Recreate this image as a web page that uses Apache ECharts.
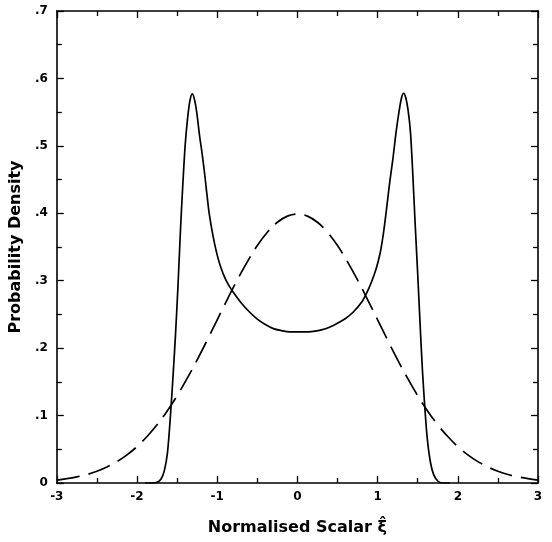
<!DOCTYPE html>
<html>
<head>
<meta charset="utf-8">
<script src="https://cdn.jsdelivr.net/npm/echarts@6/dist/echarts.min.js"></script>
<style>html,body{margin:0;padding:0;background:#fff}#c{width:552px;height:542px}</style>
</head>
<body>
<div id="c"></div>
<script>
// Dashed curve
const dashedX = [-3, -2.875, -2.75, -2.625, -2.5, -2.375, -2.25, -2.125, -2, -1.875, -1.75, -1.625, -1.5, -1.375, -1.25, -1.125, -1, -0.875, -0.75, -0.625, -0.5, -0.375, -0.25, -0.125, 0,
                 0.125, 0.25, 0.375, 0.5, 0.625, 0.75, 0.875, 1, 1.125, 1.25, 1.375, 1.5, 1.625, 1.75, 1.875, 2, 2.125, 2.25, 2.375, 2.5, 2.625, 2.75, 2.875, 3];
const dashedY = [0.0044, 0.0064, 0.0091, 0.0126, 0.0175, 0.0238, 0.0317, 0.0417, 0.054, 0.0689, 0.0863, 0.1065, 0.1295, 0.1551, 0.1826, 0.2119, 0.242, 0.2721, 0.3011, 0.328, 0.3521, 0.3718, 0.3867, 0.3958, 0.3989,
                 0.3958, 0.3867, 0.3718, 0.3521, 0.328, 0.3011, 0.2721, 0.242, 0.2119, 0.1826, 0.1551, 0.1295, 0.1065, 0.0863, 0.0689, 0.054, 0.0417, 0.0317, 0.0238, 0.0175, 0.0126, 0.0091, 0.0064, 0.0044];
// Solid curve
const solidX = [-1.9, -1.8, -1.75, -1.70, -1.66, -1.62, -1.58, -1.55, -1.52, -1.49, -1.46, -1.43, -1.40, -1.37, -1.34, -1.31, -1.28, -1.25, -1.22, -1.19, -1.16, -1.13, -1.10, -1.05, -1.00, -0.95, -0.90, -0.85, -0.80, -0.70, -0.60, -0.50, -0.40, -0.30, -0.20, -0.10, 0,
                0.10, 0.20, 0.30, 0.40, 0.50, 0.60, 0.70, 0.80, 0.86, 0.92, 0.98, 1.03, 1.07, 1.11, 1.15, 1.19, 1.23, 1.27, 1.30, 1.324, 1.35, 1.38, 1.41, 1.44, 1.47, 1.50, 1.53, 1.56, 1.59, 1.62, 1.66, 1.70, 1.75, 1.80, 1.90];
const solidY = [0, 0, 0.001, 0.006, 0.018, 0.045, 0.105, 0.16, 0.22, 0.29, 0.37, 0.44, 0.50, 0.54, 0.567, 0.577, 0.567, 0.545, 0.515, 0.49, 0.462, 0.43, 0.40, 0.365, 0.338, 0.318, 0.303, 0.292, 0.283, 0.267, 0.254, 0.243, 0.235, 0.229, 0.226, 0.224, 0.224,
                0.224, 0.225, 0.227, 0.231, 0.237, 0.244, 0.254, 0.268, 0.281, 0.297, 0.317, 0.340, 0.368, 0.405, 0.445, 0.48, 0.52, 0.553, 0.572, 0.578, 0.572, 0.553, 0.52, 0.455, 0.38, 0.31, 0.235, 0.165, 0.11, 0.065, 0.03, 0.012, 0.003, 0, 0];
const xTickLabels = {'-3': '-3', '-2': '-2', '-1': '-1', '0': '0', '1': '1', '2': '2', '3': '3'};
const yTickLabels = ['0', '.1', '.2', '.3', '.4', '.5', '.6', '.7'];
const xTitle = 'Normalised Scalar ξ\u0302';
const yTitle = 'Probability Density';

const chart = echarts.init(document.getElementById('c'), null, {renderer: 'canvas'});
const font = 'DejaVu Sans, Liberation Sans, Arial, sans-serif';
function axisCommon() {
  return {
    axisLine: {show: true, onZero: false, lineStyle: {color: '#000', width: 1.6}},
    axisTick: {show: true, inside: true, length: 7, lineStyle: {color: '#000', width: 1.3}},
    minorTick: {show: true, splitNumber: 2, length: 5, lineStyle: {color: '#000', width: 1.3}},
    splitLine: {show: false}
  };
}
chart.setOption({
  animation: false,
  backgroundColor: '#fff',
  grid: {left: 56, top: 11, right: 14, bottom: 59, containLabel: false},
  xAxis: [
    Object.assign({
      type: 'value', min: -3, max: 3, interval: 1, position: 'bottom',
      name: xTitle, nameLocation: 'middle', nameGap: 37,
      nameTextStyle: {color: '#000', fontSize: 16, fontWeight: 'bold', fontFamily: font},
      axisLabel: {color: '#000', fontSize: 12, fontWeight: 'bold', fontFamily: font, margin: 8,
        formatter: v => xTickLabels[String(Math.round(v))]}
    }, axisCommon()),
    Object.assign({
      type: 'value', min: -3, max: 3, interval: 1, position: 'top',
      axisLabel: {show: false}
    }, axisCommon())
  ],
  yAxis: [
    Object.assign({
      type: 'value', min: 0, max: 0.7, interval: 0.1, position: 'left',
      name: yTitle, nameLocation: 'middle', nameGap: 32, nameRotate: 90,
      nameTextStyle: {color: '#000', fontSize: 16, fontWeight: 'bold', fontFamily: font},
      axisLabel: {color: '#000', fontSize: 12, fontWeight: 'bold', fontFamily: font, margin: 9,
        formatter: v => yTickLabels[Math.round(v * 10)]}
    }, axisCommon()),
    Object.assign({
      type: 'value', min: 0, max: 0.7, interval: 0.1, position: 'right',
      axisLabel: {show: false}
    }, axisCommon())
  ],
  series: [
    {
      type: 'line', xAxisIndex: 0, yAxisIndex: 0, showSymbol: false, smooth: 0.4,
      lineStyle: {color: '#000', width: 1.7, type: [23, 9]},
      data: dashedX.map((x, i) => [x, dashedY[i]])
    },
    {
      type: 'line', xAxisIndex: 0, yAxisIndex: 0, showSymbol: false, smooth: 0.3,
      lineStyle: {color: '#000', width: 1.7},
      data: solidX.map((x, i) => [x, solidY[i]])
    }
  ]
});
</script>
</body>
</html>
